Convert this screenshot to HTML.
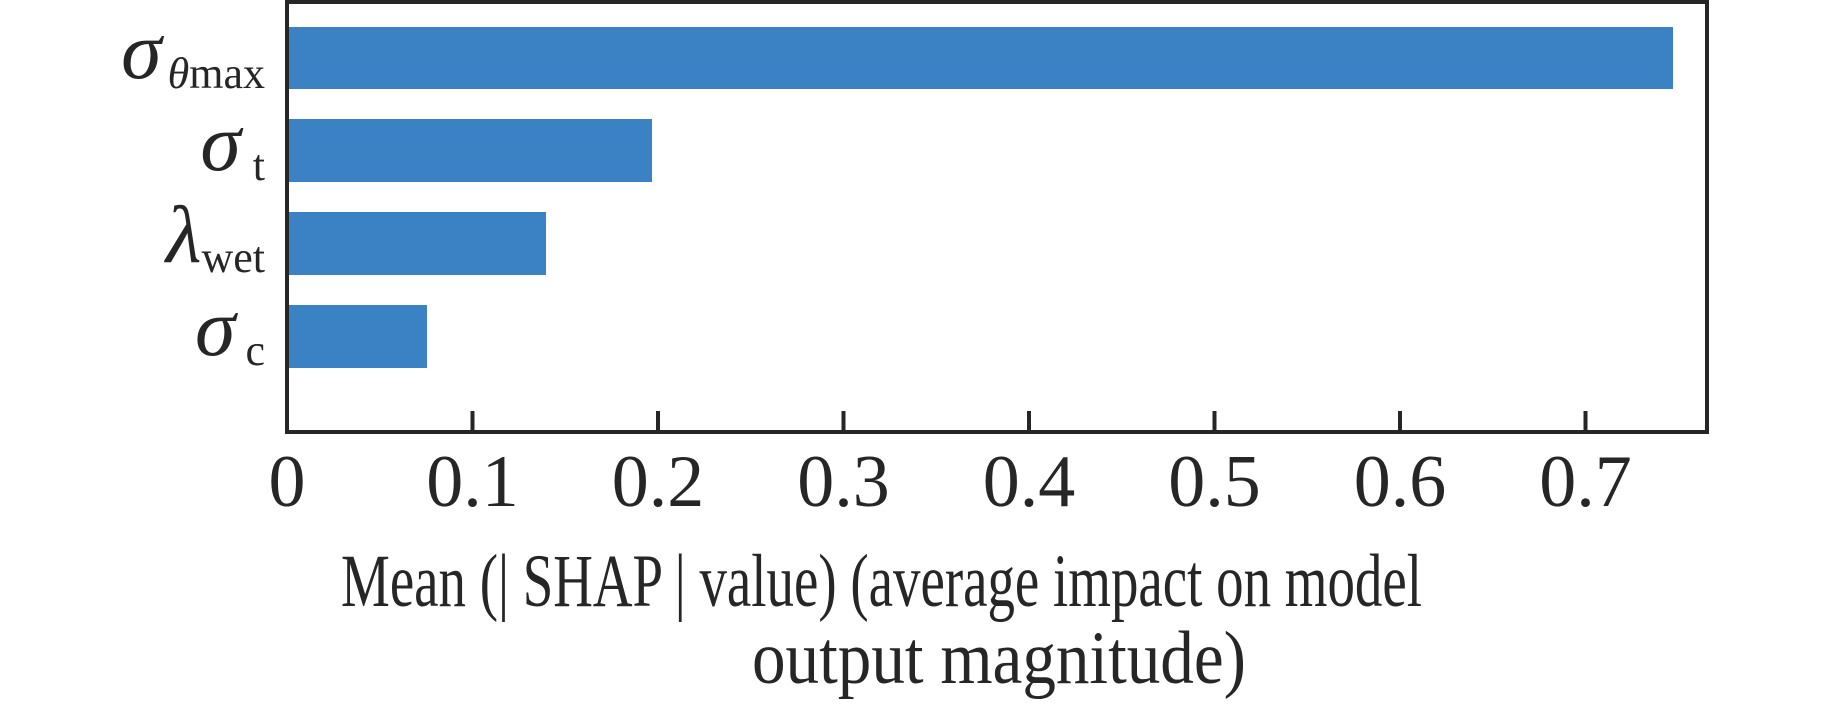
<!DOCTYPE html>
<html><head><meta charset="utf-8"><style>html,body{margin:0;padding:0;background:#fff;}</style></head>
<body>
<svg width="1843" height="705" xmlns="http://www.w3.org/2000/svg" font-family="'Liberation Serif', serif" fill="#262626">
<rect width="1843" height="705" fill="#fff"/>
<g fill="#3a82c4">
<rect x="289" y="27" width="1384" height="62"/>
<rect x="289" y="119" width="363" height="63"/>
<rect x="289" y="212" width="257" height="63"/>
<rect x="289" y="305" width="138" height="63"/>
</g>
<rect x="287" y="2" width="1420" height="430" fill="none" stroke="#262626" stroke-width="4"/>
<g stroke="#262626" stroke-width="4">
<line x1="472.5" y1="432" x2="472.5" y2="411"/>
<line x1="658" y1="432" x2="658" y2="411"/>
<line x1="843.5" y1="432" x2="843.5" y2="411"/>
<line x1="1029" y1="432" x2="1029" y2="411"/>
<line x1="1214.5" y1="432" x2="1214.5" y2="411"/>
<line x1="1400" y1="432" x2="1400" y2="411"/>
<line x1="1585.5" y1="432" x2="1585.5" y2="411"/>
</g>
<g font-size="74" text-anchor="middle">
<text x="287" y="506">0</text>
<text x="472.5" y="506">0.1</text>
<text x="658" y="506">0.2</text>
<text x="843.5" y="506">0.3</text>
<text x="1029" y="506">0.4</text>
<text x="1214.5" y="506">0.5</text>
<text x="1400" y="506">0.6</text>
<text x="1585.5" y="506">0.7</text>
</g>
<g text-anchor="end">
<text x="265" y="78"><tspan font-size="82" font-style="italic">σ</tspan><tspan font-size="44" dy="10" dx="6"><tspan font-style="italic">θ</tspan>max</tspan></text>
<text x="265" y="170"><tspan font-size="82" font-style="italic">σ</tspan><tspan font-size="44" dy="10" dx="12">t</tspan></text>
<text x="265" y="262"><tspan font-size="82" font-style="italic">λ</tspan><tspan font-size="44" dy="10">wet</tspan></text>
<text x="265" y="355"><tspan font-size="82" font-style="italic">σ</tspan><tspan font-size="44" dy="10" dx="10">c</tspan></text>
</g>
<g font-size="75">
<text x="341" y="606" textLength="1081" lengthAdjust="spacingAndGlyphs">Mean (| SHAP | value) (average impact on model</text>
<text x="752" y="683" textLength="494" lengthAdjust="spacingAndGlyphs">output magnitude)</text>
</g>
</svg>
</body></html>
